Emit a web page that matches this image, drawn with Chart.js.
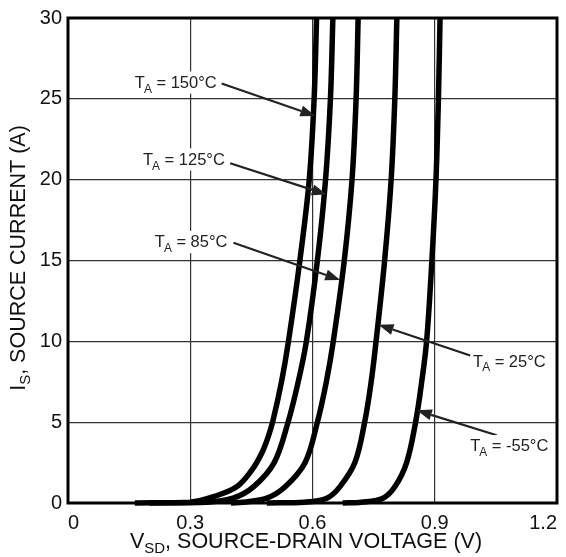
<!DOCTYPE html>
<html>
<head>
<meta charset="utf-8">
<script src="https://cdn.jsdelivr.net/npm/chart.js@4.4.0/dist/chart.umd.min.js"></script>
<style>
  html, body { margin: 0; padding: 0; background: #fff; }
  #wrap { width: 566px; height: 557px; }
</style>
</head>
<body>
<div id="wrap"><canvas id="chart" width="566" height="557"></canvas></div>
<script>
// diode forward curves (V_SD in volts, I_S in amps)
const vsd150 = [0.164, 0.300, 0.357, 0.414, 0.451, 0.475, 0.491, 0.503, 0.524, 0.541, 0.569, 0.592, 0.604, 0.610];
const is150  = [0,     0.05,  0.39,  1.0,   2.03,  3.06,  4.08,  5.1,   7.5,   10,    15,    20,    25,    30];

const vsd125 = [0.200, 0.340, 0.405, 0.455, 0.506, 0.540, 0.565, 0.585, 0.612, 0.632, 0.644, 0.650];
const is125  = [0,     0.05,  0.3,   1.0,   2.5,   5,     7.5,   10,    15,    20,    25,    30];

const vsd85  = [0.400, 0.430, 0.488, 0.533, 0.582, 0.612, 0.634, 0.651, 0.678, 0.697, 0.707, 0.712];
const is85   = [0,     0.05,  0.3,   1.0,   2.5,   5,     7.5,   10,    15,    20,    25,    30];

const vsd25  = [0.488, 0.580, 0.635, 0.667, 0.704, 0.728, 0.744, 0.756, 0.777, 0.793, 0.802, 0.807];
const is25   = [0,     0.05,  0.3,   1.0,   2.5,   5,     7.5,   10,    15,    20,    25,    30];

const vsdM55 = [0.674, 0.720, 0.773, 0.802, 0.831, 0.853, 0.868, 0.880, 0.893, 0.903, 0.909, 0.913];
const isM55  = [0,     0.05,  0.3,   1.0,   2.5,   5,     7.5,   10,    15,    20,    25,    30];

const xTicks = [0, 0.3, 0.6, 0.9, 1.2];
const yTicks = [0, 5, 10, 15, 20, 25, 30];

// callouts: label text, label left/middle, arrow tail, arrow tip (data units)
const calloutTemps = ['150°C', '125°C', '85°C', '25°C', '-55°C'];
const calloutLabelX = [0.164, 0.184, 0.213, 0.994, 0.987];
const calloutLabelY = [26.06, 21.30, 16.20, 8.81, 3.57];
const calloutTailX = [0.377, 0.398, 0.406, 0.987, 1.052];
const calloutTailY = [25.95, 21.02, 16.10, 9.12, 4.19];
const calloutTipX = [0.607, 0.635, 0.668, 0.762, 0.856];
const calloutTipY = [23.94, 19.08, 13.80, 11.03, 5.73];

const FONT = '"Liberation Sans", Arial, Helvetica, sans-serif';

function pts(xs, ys) {
  return xs.map((x, i) => ({ x: x, y: ys[i] }));
}

function curve(label, xs, ys) {
  return {
    label: label,
    data: pts(xs, ys),
    borderColor: '#000',
    borderWidth: 5.5,
    pointRadius: 0,
    fill: false,
    tension: 0.35,
    clip: 6
  };
}

// draws "T_A = xx°C" starting at x, vertically centred on y
function drawTA(ctx, x, y, temp, size) {
  const sub = size * 0.72;
  ctx.textBaseline = 'alphabetic';
  ctx.textAlign = 'left';
  ctx.font = size + 'px ' + FONT;
  const wT = ctx.measureText('T').width;
  const rest = ' = ' + temp;
  const wR = ctx.measureText(rest).width;
  ctx.font = sub + 'px ' + FONT;
  const wA = ctx.measureText('A').width;
  const base = y + size * 0.36;

  ctx.fillStyle = '#fff';
  ctx.fillRect(x - 2, y - size * 0.62, wT + wA + wR + 4, size * 1.35);

  ctx.fillStyle = '#222';
  ctx.font = size + 'px ' + FONT;
  ctx.fillText('T', x, base);
  ctx.font = sub + 'px ' + FONT;
  ctx.fillText('A', x + wT - 1, base + size * 0.3);
  ctx.font = size + 'px ' + FONT;
  ctx.fillText(rest, x + wT + wA - 1, base);
}

function drawArrow(ctx, x1, y1, x2, y2) {
  const ang = Math.atan2(y2 - y1, x2 - x1);
  const len = 15, half = 5.5;
  const bx = x2 - len * Math.cos(ang);
  const by = y2 - len * Math.sin(ang);
  ctx.strokeStyle = '#222';
  ctx.lineWidth = 2.2;
  ctx.beginPath();
  ctx.moveTo(x1, y1);
  ctx.lineTo(bx, by);
  ctx.stroke();
  ctx.fillStyle = '#222';
  ctx.beginPath();
  ctx.moveTo(x2, y2);
  ctx.lineTo(bx + half * Math.sin(ang), by - half * Math.cos(ang));
  ctx.lineTo(bx - half * Math.sin(ang), by + half * Math.cos(ang));
  ctx.closePath();
  ctx.fill();
}

const decor = {
  id: 'decor',
  afterDatasetsDraw(chart) {
    const ctx = chart.ctx;
    const a = chart.chartArea;
    const xs = chart.scales.x, ys = chart.scales.y;
    ctx.save();

    // frame
    ctx.strokeStyle = '#000';
    ctx.lineWidth = 3;
    ctx.strokeRect(a.left, a.top, a.right - a.left, a.bottom - a.top);

    // callouts
    calloutTemps.forEach((t, i) => {
      drawArrow(ctx,
        xs.getPixelForValue(calloutTailX[i]), ys.getPixelForValue(calloutTailY[i]),
        xs.getPixelForValue(calloutTipX[i]), ys.getPixelForValue(calloutTipY[i]));
      drawTA(ctx, xs.getPixelForValue(calloutLabelX[i]), ys.getPixelForValue(calloutLabelY[i]), t, 16.5);
    });

    // axis titles with subscripts
    const big = 21.5, small = 15;
    ctx.fillStyle = '#111';
    ctx.textBaseline = 'alphabetic';
    ctx.textAlign = 'left';

    ctx.font = big + 'px ' + FONT;
    const wV = ctx.measureText('V').width;
    const xRest = ', SOURCE-DRAIN VOLTAGE (V)';
    const wXR = ctx.measureText(xRest).width;
    ctx.font = small + 'px ' + FONT;
    const wSD = ctx.measureText('SD').width;
    let x0 = 306 - (wV + wSD + wXR) / 2;
    const by = 548;
    ctx.font = big + 'px ' + FONT;
    ctx.fillText('V', x0, by);
    ctx.font = small + 'px ' + FONT;
    ctx.fillText('SD', x0 + wV, by + 5);
    ctx.font = big + 'px ' + FONT;
    ctx.fillText(xRest, x0 + wV + wSD, by);

    ctx.translate(25, 258);
    ctx.rotate(-Math.PI / 2);
    ctx.font = big + 'px ' + FONT;
    const wI = ctx.measureText('I').width;
    const yRest = ', SOURCE CURRENT (A)';
    const wYR = ctx.measureText(yRest).width;
    ctx.font = small + 'px ' + FONT;
    const wS = ctx.measureText('S').width;
    let y0 = -(wI + wS + wYR) / 2;
    ctx.font = big + 'px ' + FONT;
    ctx.fillText('I', y0, 0);
    ctx.font = small + 'px ' + FONT;
    ctx.fillText('S', y0 + wI, 5);
    ctx.font = big + 'px ' + FONT;
    ctx.fillText(yRest, y0 + wI + wS, 0);

    ctx.restore();
  }
};

new Chart(document.getElementById('chart').getContext('2d'), {
  type: 'line',
  data: {
    datasets: [
      curve('TA = 150°C', vsd150, is150),
      curve('TA = 125°C', vsd125, is125),
      curve('TA = 85°C', vsd85, is85),
      curve('TA = 25°C', vsd25, is25),
      curve('TA = -55°C', vsdM55, isM55)
    ]
  },
  options: {
    responsive: false,
    animation: false,
    layout: { padding: { top: 16, right: 9, left: 0, bottom: 0 } },
    plugins: { legend: { display: false }, tooltip: { enabled: false } },
    scales: {
      x: {
        type: 'linear',
        min: 0, max: 1.2,
        afterBuildTicks: s => { s.ticks = xTicks.map(v => ({ value: v })); },
        afterFit: s => { s.height = 54; },
        grid: { color: '#333', lineWidth: 1.2, drawTicks: false },
        border: { display: false },
        ticks: {
          align: 'inner',
          padding: 8,
          color: '#111',
          font: { family: FONT, size: 20 },
          callback: v => v === 0 ? '0' : v.toFixed(1)
        }
      },
      y: {
        type: 'linear',
        min: 0, max: 30,
        afterBuildTicks: s => { s.ticks = yTicks.map(v => ({ value: v })); },
        afterFit: s => { s.width = 68; },
        grid: { color: '#333', lineWidth: 1.2, drawTicks: false },
        border: { display: false },
        ticks: {
          padding: 6,
          color: '#111',
          font: { family: FONT, size: 20 },
          callback: v => String(v)
        }
      }
    }
  },
  plugins: [decor]
});
</script>
</body>
</html>
